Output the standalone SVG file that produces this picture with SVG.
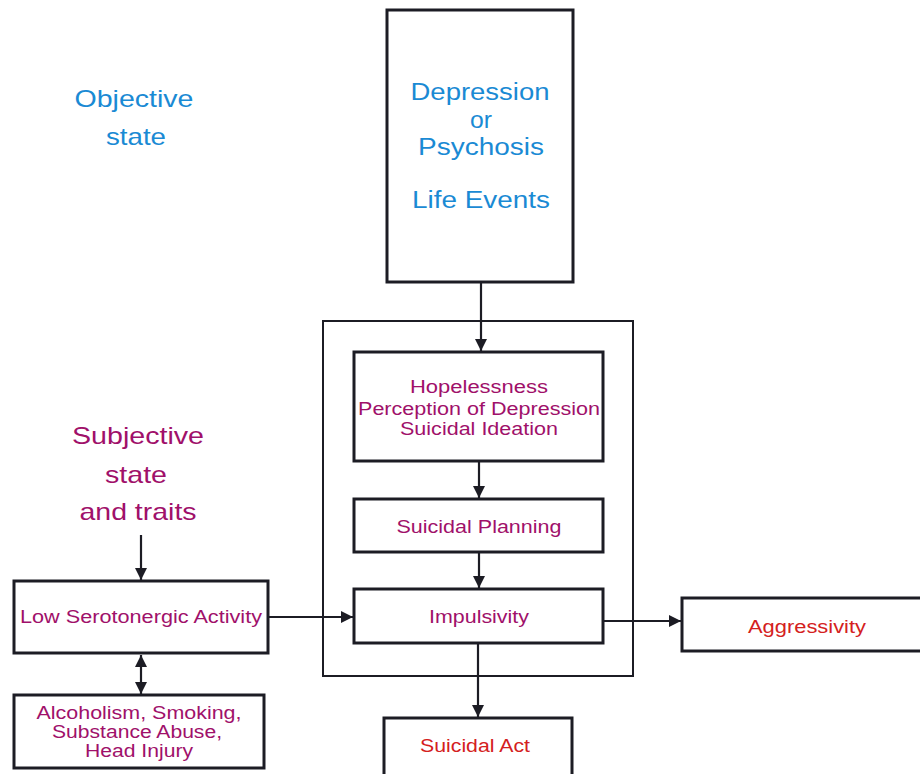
<svg xmlns="http://www.w3.org/2000/svg" width="920" height="774" viewBox="0 0 920 774">
<style>
.box{fill:#fff;stroke:#1c1c24;stroke-width:3}
.thin{fill:none;stroke:#1c1c24;stroke-width:2}
.con{fill:none;stroke:#1c1c24;stroke-width:2.2}
.blue{font-family:"Liberation Sans",Arial,sans-serif;fill:#1a8ad4;text-anchor:middle}
.mag{font-family:"Liberation Sans",Arial,sans-serif;fill:#a0106a;text-anchor:middle}
.red{font-family:"Liberation Sans",Arial,sans-serif;fill:#d42020;text-anchor:middle}
.s{font-size:17.5px}
</style>
<defs>
<marker id="ah" viewBox="0 0 10 10" refX="10" refY="5" markerWidth="5.5" markerHeight="5.5" orient="auto-start-reverse" markerUnits="strokeWidth">
<path d="M0,0 L10,5 L0,10 z" fill="#1c1c24"/>
</marker>
</defs>
<rect width="920" height="774" fill="#fff"/>
<g id="labels">
<text class="blue" x="134" y="107" font-size="24" textLength="119" lengthAdjust="spacingAndGlyphs">Objective</text>
<text class="blue" x="136" y="145" font-size="24" textLength="60" lengthAdjust="spacingAndGlyphs">state</text>
<text class="mag" x="138" y="444" font-size="24" textLength="132" lengthAdjust="spacingAndGlyphs">Subjective</text>
<text class="mag" x="136" y="483" font-size="24" textLength="62" lengthAdjust="spacingAndGlyphs">state</text>
<text class="mag" x="138" y="520" font-size="24" textLength="117" lengthAdjust="spacingAndGlyphs">and traits</text>
</g>
<g id="container">
<rect x="323" y="321" width="310" height="355" class="thin"/>
</g>
<g id="top">
<rect x="387" y="10" width="186" height="272" class="box"/>
<text class="blue" x="480" y="100" font-size="23" textLength="139" lengthAdjust="spacingAndGlyphs">Depression</text>
<text class="blue" x="481" y="128" font-size="23" textLength="22" lengthAdjust="spacingAndGlyphs">or</text>
<text class="blue" x="481" y="155" font-size="23" textLength="126" lengthAdjust="spacingAndGlyphs">Psychosis</text>
<text class="blue" x="481" y="208" font-size="23" textLength="138" lengthAdjust="spacingAndGlyphs">Life Events</text>
</g>
<g id="hopeless">
<rect x="354" y="352" width="249" height="109" class="box"/>
<text class="mag s" x="479" y="393" textLength="138" lengthAdjust="spacingAndGlyphs">Hopelessness</text>
<text class="mag s" x="479" y="415" textLength="242" lengthAdjust="spacingAndGlyphs">Perception of Depression</text>
<text class="mag s" x="479" y="435" textLength="158" lengthAdjust="spacingAndGlyphs">Suicidal Ideation</text>
</g>
<g id="planning">
<rect x="354" y="499" width="249" height="53" class="box"/>
<text class="mag s" x="479" y="533" textLength="165" lengthAdjust="spacingAndGlyphs">Suicidal Planning</text>
</g>
<g id="impulsivity">
<rect x="354" y="589" width="249" height="54" class="box"/>
<text class="mag s" x="479" y="623" textLength="100" lengthAdjust="spacingAndGlyphs">Impulsivity</text>
</g>
<g id="serotonergic">
<rect x="14" y="581" width="254" height="72" class="box"/>
<text class="mag s" x="141" y="623" textLength="242" lengthAdjust="spacingAndGlyphs">Low Serotonergic Activity</text>
</g>
<g id="alcoholism">
<rect x="14" y="695" width="250" height="73" class="box"/>
<text class="mag s" x="139" y="719" textLength="205" lengthAdjust="spacingAndGlyphs">Alcoholism, Smoking,</text>
<text class="mag s" x="137" y="738" textLength="170" lengthAdjust="spacingAndGlyphs">Substance Abuse,</text>
<text class="mag s" x="139" y="757" textLength="108" lengthAdjust="spacingAndGlyphs">Head Injury</text>
</g>
<g id="aggressivity">
<rect x="682" y="598" width="245" height="53" class="box"/>
<text class="red s" x="807" y="633" textLength="118" lengthAdjust="spacingAndGlyphs">Aggressivity</text>
</g>
<g id="act">
<rect x="384" y="718" width="188" height="62" class="box"/>
<text class="red s" x="475" y="752" textLength="110" lengthAdjust="spacingAndGlyphs">Suicidal Act</text>
</g>
<g id="connectors">
<line class="con" x1="481" y1="283" x2="481" y2="351" marker-end="url(#ah)"/>
<line class="con" x1="479" y1="462" x2="479" y2="498" marker-end="url(#ah)"/>
<line class="con" x1="479" y1="553" x2="479" y2="588" marker-end="url(#ah)"/>
<line class="con" x1="141" y1="535" x2="141" y2="580" marker-end="url(#ah)"/>
<line class="con" x1="141" y1="655" x2="141" y2="694" marker-start="url(#ah)" marker-end="url(#ah)"/>
<line class="con" x1="269" y1="617" x2="353" y2="617" marker-end="url(#ah)"/>
<line class="con" x1="604" y1="621" x2="681" y2="621" marker-end="url(#ah)"/>
<line class="con" x1="478" y1="644" x2="478" y2="717" marker-end="url(#ah)"/>
</g>
</svg>
